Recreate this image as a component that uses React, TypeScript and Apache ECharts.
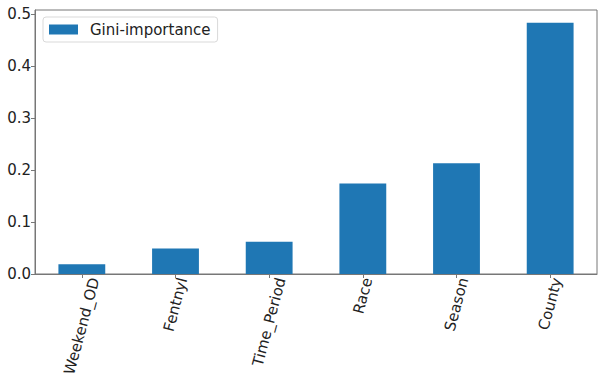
import React, { useEffect, useRef } from "react";
import * as echarts from "echarts";

const categories = ["Weekend_OD", "Fentnyl", "Time_Period", "Race", "Season", "County"];
const giniImportance = [0.0186, 0.049, 0.062, 0.174, 0.213, 0.483];
const seriesName = "Gini-importance";

const FONT = "DejaVu Sans";
const LABEL_SIZE = 15;
const ROT = 75;

function measure(text: string): number {
  const c = document.createElement("canvas");
  const ctx = c.getContext("2d");
  if (!ctx) return text.length * LABEL_SIZE * 0.6;
  ctx.font = `${LABEL_SIZE}px "${FONT}"`;
  return ctx.measureText(text).width;
}

export default function App() {
  const ref = useRef<HTMLDivElement>(null);
  useEffect(() => {
    if (!ref.current) return;
    const chart = echarts.init(ref.current, undefined, { renderer: "svg" });
    // center each rotated label's bounding box on its tick (matplotlib style)
    const rad = (ROT * Math.PI) / 180;
    const rich: Record<string, any> = {};
    categories.forEach((name, i) => {
      const L = measure(name);
      const D = (L / 2) * Math.sin(rad);
      const alongU = D * Math.sin(rad);
      const alongV = D * Math.cos(rad);
      rich["l" + i] = {
        fontFamily: FONT,
        fontSize: LABEL_SIZE,
        color: "#222",
        padding: [2 * alongV, 2 * alongU, 0, 0],
      };
    });
    chart.setOption({
      animation: false,
      backgroundColor: "#fff",
      textStyle: { fontFamily: FONT },
      legend: {
        left: 43,
        top: 17,
        orient: "vertical",
        data: [seriesName],
        itemWidth: 29,
        itemHeight: 10,
        itemGap: 0,
        padding: [5, 7, 5, 6],
        borderColor: "#d9d9d9",
        borderWidth: 1,
        borderRadius: 3,
        backgroundColor: "rgba(255,255,255,0.8)",
        textStyle: { fontFamily: FONT, fontSize: 15, color: "#222", padding: [0, 0, 0, 7] },
        icon: "rect",
      },
      grid: {
        left: 35,
        right: 1,
        top: 10,
        bottom: 103,
        containLabel: false,
        outerBoundsMode: "none",
        show: true,
        borderColor: "#777",
        borderWidth: 1,
        backgroundColor: "transparent",
      },
      xAxis: {
        type: "category",
        data: categories,
        axisLine: { lineStyle: { color: "#777", width: 1 } },
        axisTick: { show: true, alignWithLabel: true, length: 4, lineStyle: { color: "#777" } },
        axisLabel: {
          rotate: ROT,
          interval: 0,
          margin: 4,
          align: "center",
          verticalAlign: "middle",
          fontFamily: FONT,
          fontSize: LABEL_SIZE,
          color: "#222",
          formatter: (val: string, idx: number) => `{l${idx}|${val}}`,
          rich,
        },
      },
      yAxis: {
        type: "value",
        min: 0,
        max: 0.5077,
        interval: 0.1,
        splitLine: { show: false },
        axisLine: { show: true, lineStyle: { color: "#777", width: 1 } },
        axisTick: { show: true, length: 4, lineStyle: { color: "#777" } },
        axisLabel: {
          showMaxLabel: false,
          margin: 4,
          fontFamily: FONT,
          fontSize: 15,
          color: "#222",
          formatter: (v: number) => v.toFixed(1),
        },
      },
      series: [
        {
          name: seriesName,
          type: "bar",
          data: giniImportance,
          barWidth: "50%",
          itemStyle: { color: "#1f77b4" },
        },
      ],
    });
    return () => chart.dispose();
  }, []);
  return <div ref={ref} style={{ width: 598, height: 377, position: "absolute", left: 0, top: 0 }} />;
}
